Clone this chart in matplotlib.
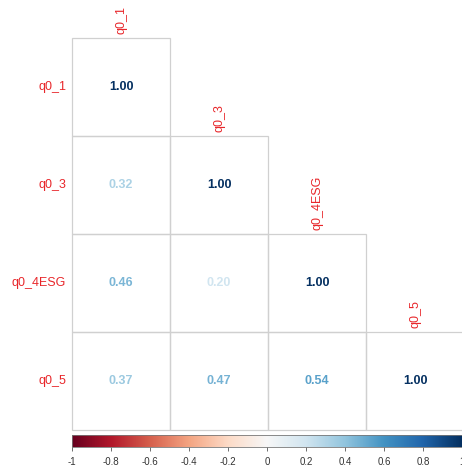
import numpy as np
import matplotlib
matplotlib.use("Agg")
import matplotlib.pyplot as plt
from matplotlib.patches import Rectangle

# datos
variables = ["q0_1", "q0_3", "q0_4ESG", "q0_5"]
corr = [
    [1.00],
    [0.32, 1.00],
    [0.46, 0.20, 1.00],
    [0.37, 0.47, 0.54, 1.00],
]
cbar_ticks = [-1, -0.8, -0.6, -0.4, -0.2, 0, 0.2, 0.4, 0.6, 0.8, 1]

plt.rcParams["font.family"] = ["Liberation Sans", "DejaVu Sans"]
cmap = plt.get_cmap("RdBu")
norm = plt.Normalize(-1, 1)
n = len(variables)

fig = plt.figure(figsize=(4.62, 4.70), dpi=100)
ax = fig.add_axes([72 / 462, 1 - 430 / 470, 392 / 462, 392 / 470])
ax.set_xlim(0, n)
ax.set_ylim(n, 0)
ax.axis("off")

for i in range(n):
    for j in range(i + 1):
        ax.add_patch(Rectangle((j, i), 1, 1, fill=False, edgecolor="#d0d0d0",
                               lw=0.9, clip_on=False))
        v = corr[i][j]
        ax.text(j + 0.5, i + 0.5, f"{v:.2f}", ha="center", va="center",
                fontsize=9, fontweight="bold", color=cmap(norm(v)), clip_on=False)
    # etiquetas de filas
    ax.text(-0.06, i + 0.5, variables[i], ha="right", va="center",
            fontsize=9, color="#e8262a", clip_on=False)
    # etiquetas de columnas
    ax.text(i + 0.5, i - 0.04, variables[i], ha="center", va="bottom",
            rotation=90, fontsize=9, color="#e8262a", clip_on=False)

# barra de color
cax = fig.add_axes([72 / 462, 1 - 447 / 470, 390 / 462, 12 / 470])
grad = np.linspace(-1, 1, 256).reshape(1, -1)
cax.imshow(grad, cmap=cmap, norm=norm, aspect="auto", extent=[-1, 1, 0, 1])
cax.set_xlim(-1, 1)
cax.set_yticks([])
cax.set_xticks(cbar_ticks)
cax.set_xticklabels([f"{t:g}" for t in cbar_ticks], fontsize=7, color="#333333")
cax.tick_params(axis="x", length=3, width=0.6, color="#555555", pad=4)
for s in cax.spines.values():
    s.set_color("#777777")
    s.set_linewidth(0.6)

fig.savefig("out.png", dpi=100)
